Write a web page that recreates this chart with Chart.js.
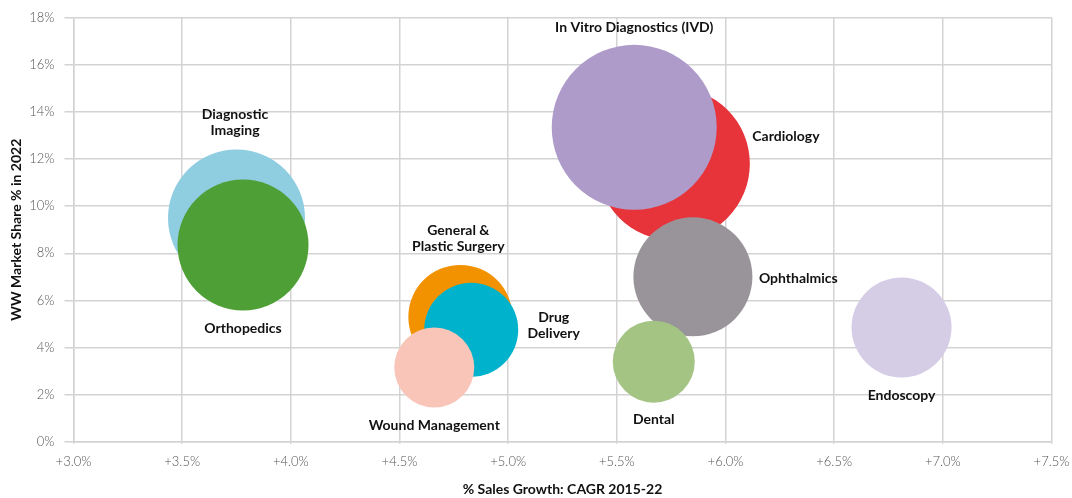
<!DOCTYPE html>
<html>
<head>
<meta charset="utf-8">
<script src="https://cdn.jsdelivr.net/npm/chart.js@4.4.1/dist/chart.umd.min.js"></script>
<style>
  body { margin: 0; background: #fff; }
  #chart { display: block; }
</style>
</head>
<body>
<canvas id="chart" width="1072" height="498"></canvas>
<script>
// segments, drawn back to front
const categories = ['Cardiology', 'In Vitro Diagnostics (IVD)', 'Ophthalmics', 'Dental', 'Endoscopy',
    'Diagnostic Imaging', 'Orthopedics', 'General & Plastic Surgery', 'Drug Delivery', 'Wound Management'];
const salesGrowth = [5.76, 5.58, 5.85, 5.67, 6.81, 3.75, 3.78, 4.78, 4.83, 4.66];
const marketShare = [11.8, 13.35, 7.0, 3.4, 4.85, 9.5, 8.35, 5.3, 4.75, 3.15];
const bubbleSize = [76.5, 82.5, 59.5, 41, 50, 68.5, 65.5, 52, 47, 40];

const xTicks = [3.0, 3.5, 4.0, 4.5, 5.0, 5.5, 6.0, 6.5, 7.0, 7.5];
const yTicks = [0, 2, 4, 6, 8, 10, 12, 14, 16, 18];

const colors = ['#e7343b', '#ae9bc9', '#999499', '#a3c483', '#d5cce6',
    '#8fcde0', '#4e9f35', '#f39200', '#00b2cc', '#f8c5b8'];

// label text lines and where they sit relative to the bubble centre
const labelLines = [
    ['Cardiology'], ['In Vitro Diagnostics (IVD)'], ['Ophthalmics'], ['Dental'], ['Endoscopy'],
    ['Diagnostic', 'Imaging'], ['Orthopedics'], ['General &', 'Plastic Surgery'], ['Drug', 'Delivery'], ['Wound Management']
];
const labelPlace = [
    { dx: 79, dy: -27, align: 'left' },
    { dx: 0, dy: -100, align: 'center' },
    { dx: 66, dy: 2, align: 'left' },
    { dx: 0, dy: 58, align: 'center' },
    { dx: 0, dy: 68, align: 'center' },
    { dx: -1.5, dy: -95, align: 'center' },
    { dx: 0, dy: 83, align: 'center' },
    { dx: -2, dy: -78, align: 'center' },
    { dx: 82.5, dy: -4.5, align: 'center' },
    { dx: 0, dy: 57.5, align: 'center' }
];

const fontFamily = 'Lato, "Open Sans", sans-serif';

const bubbleLabels = {
    id: 'bubbleLabels',
    afterDatasetsDraw(chart) {
        const ctx = chart.ctx;
        ctx.save();
        ctx.font = 'bold 14px ' + fontFamily;
        ctx.fillStyle = '#111';
        ctx.textBaseline = 'middle';
        chart.data.datasets.forEach((ds, i) => {
            const el = chart.getDatasetMeta(i).data[0];
            const place = labelPlace[i];
            const lines = labelLines[i];
            ctx.textAlign = place.align;
            const lh = 16;
            const y0 = el.y + place.dy - (lines.length - 1) * lh / 2;
            lines.forEach((t, j) => ctx.fillText(t, el.x + place.dx, y0 + j * lh));
        });
        ctx.restore();
    }
};

// later entries are painted on top
const datasets = categories.map((name, i) => ({
    label: name,
    data: [{ x: salesGrowth[i], y: marketShare[i], r: bubbleSize[i] }],
    backgroundColor: colors[i],
    borderWidth: 0,
    hoverBorderWidth: 0,
    order: categories.length - i,
    clip: false
}));

new Chart(document.getElementById('chart'), {
    type: 'bubble',
    data: { datasets },
    options: {
        responsive: false,
        animation: false,
        layout: { autoPadding: false, padding: { top: 16.3, right: 20.5, left: 0, bottom: 0 } },
        plugins: {
            legend: { display: false },
            tooltip: { enabled: false }
        },
        scales: {
            x: {
                type: 'linear',
                min: 3.0,
                max: 7.5,
                afterBuildTicks: (scale) => { scale.ticks = xTicks.map(v => ({ value: v })); },
                afterFit: (scale) => {
                    scale.height = 56.3;
                    scale.paddingLeft = 0;
                    scale.paddingRight = 0;
                },
                grid: { color: '#d3d3d3', lineWidth: 1.5, tickLength: 2 },
                border: { color: '#d3d3d3', width: 1.5 },
                ticks: {
                    color: '#555',
                    padding: 10,
                    font: { family: fontFamily, size: 13, weight: 300 },
                    maxRotation: 0,
                    callback: (v) => '+' + Number(v).toFixed(1) + '%'
                },
                title: {
                    display: true,
                    text: '% Sales Growth: CAGR 2015-22',
                    color: '#111',
                    padding: { top: 4, bottom: 0 },
                    font: { family: fontFamily, size: 14, weight: 'bold' }
                }
            },
            y: {
                type: 'linear',
                min: 0,
                max: 18,
                afterBuildTicks: (scale) => { scale.ticks = yTicks.map(v => ({ value: v })); },
                afterFit: (scale) => { scale.width = 73.5; },
                grid: { color: '#d3d3d3', lineWidth: 1.5, tickLength: 9 },
                border: { color: '#d3d3d3', width: 1.5 },
                ticks: {
                    color: '#555',
                    padding: 10,
                    font: { family: fontFamily, size: 13, weight: 300 },
                    callback: (v) => v + '%'
                },
                title: {
                    display: true,
                    text: 'WW Market Share % in 2022',
                    color: '#111',
                    padding: { top: 8, bottom: 0 },
                    font: { family: fontFamily, size: 14, weight: 'bold' }
                }
            }
        }
    },
    plugins: [bubbleLabels]
});
</script>
</body>
</html>
